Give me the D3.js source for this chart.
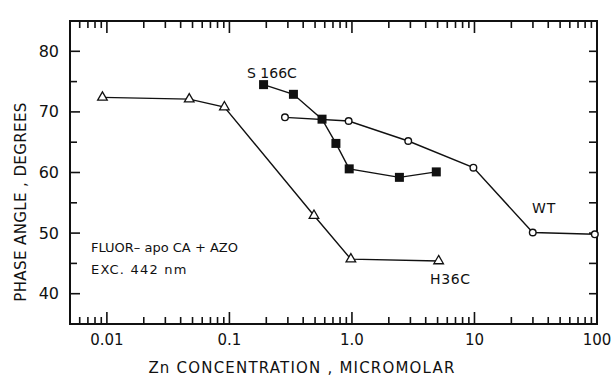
<!DOCTYPE html>
<html>
<head>
<meta charset="utf-8">
<script src="https://cdn.jsdelivr.net/npm/d3@7"></script>
<style>
  body { margin: 0; background: #fff; }
  svg text { font-family: "DejaVu Sans", sans-serif; fill: #111; }
</style>
</head>
<body>
<div id="chart"></div>
<script>
// ===== Data =====
const h36cConc = [0.0092, 0.047, 0.091, 0.49, 0.98, 5.1];
const h36cPhase = [72.4, 72.1, 70.8, 52.9, 45.7, 45.4];

const s166cConc = [0.19, 0.333, 0.57, 0.74, 0.95, 2.44, 4.88];
const s166cPhase = [74.5, 72.9, 68.8, 64.8, 60.6, 59.2, 60.1];

const wtConc = [0.284, 0.94, 2.88, 9.8, 29.9, 96];
const wtPhase = [69.1, 68.5, 65.2, 60.8, 50.1, 49.8];

const xTickValues = [0.01, 0.1, 1, 10, 100];
const xTickLabels = ['0.01', '0.1', '1.0', '10', '100'];
const yTickValues = [40, 50, 60, 70, 80];

// ===== Layout =====
const W = 615, H = 376;
const margin = { top: 21, right: 18, bottom: 52, left: 70 };
const width = W - margin.left - margin.right;
const height = H - margin.top - margin.bottom;

const svg = d3.select('#chart').append('svg')
    .attr('width', W)
    .attr('height', H);

const g = svg.append('g')
    .attr('transform', `translate(${margin.left},${margin.top})`);

// ===== Scales =====
const x = d3.scaleLog().domain([0.005, 100]).range([0, width]);
const y = d3.scaleLinear().domain([35, 85]).range([height, 0]);

// minor log ticks inside the domain
const minorX = [];
[0.001, 0.01, 0.1, 1, 10].forEach(dec => {
    for (let k = 2; k <= 9; k++) {
        const v = dec * k;
        if (v >= 0.005 && v <= 100) minorX.push(v);
    }
});

// ===== Ticks (all inward) =====
function tickLine(x1, y1, x2, y2) {
    g.append('line')
        .attr('x1', x1).attr('y1', y1).attr('x2', x2).attr('y2', y2)
        .attr('stroke', '#111').attr('stroke-width', 1.6);
}

xTickValues.forEach(v => {
    tickLine(x(v), height, x(v), height - 12);
    tickLine(x(v), 0, x(v), 12);
});
minorX.forEach(v => {
    tickLine(x(v), height, x(v), height - 7);
    tickLine(x(v), 0, x(v), 7);
});

d3.range(40, 85, 5).forEach(v => {
    const major = v % 10 === 0;
    tickLine(0, y(v), major ? 10 : 7, y(v));
    tickLine(width, y(v), width - 8, y(v));
});

// Frame
g.append('rect')
    .attr('width', width).attr('height', height)
    .attr('fill', 'none').attr('stroke', '#111').attr('stroke-width', 2);

// Tick labels
g.selectAll('.xlab')
    .data(xTickValues)
    .enter().append('text')
    .attr('x', d => x(d))
    .attr('y', height + 21)
    .attr('text-anchor', 'middle')
    .attr('font-size', 15)
    .text((d, i) => xTickLabels[i]);

g.selectAll('.ylab')
    .data(yTickValues)
    .enter().append('text')
    .attr('x', -11)
    .attr('y', d => y(d) + 5.5)
    .attr('text-anchor', 'end')
    .attr('font-size', 16)
    .text(d => d);

// Axis titles
svg.append('text')
    .attr('x', 302)
    .attr('y', 373)
    .attr('text-anchor', 'middle')
    .attr('font-size', 15)
    .attr('letter-spacing', 1.2)
    .text('Zn  CONCENTRATION , MICROMOLAR');

svg.append('text')
    .attr('transform', 'translate(26,202) rotate(-90)')
    .attr('text-anchor', 'middle')
    .attr('font-size', 15)
    .attr('letter-spacing', 0.4)
    .text('PHASE  ANGLE , DEGREES');

// ===== Series =====
const line = d3.line().x(d => x(d[0])).y(d => y(d[1]));

function drawSeries(conc, phase, marker) {
    const pts = conc.map((c, i) => [c, phase[i]]);
    g.append('path')
        .datum(pts)
        .attr('d', line)
        .attr('fill', 'none')
        .attr('stroke', '#111')
        .attr('stroke-width', 1.4);

    pts.forEach(p => {
        const px = x(p[0]), py = y(p[1]);
        if (marker === 'triangle') {
            g.append('path')
                .attr('d', d3.symbol().type(d3.symbolTriangle).size(40)())
                .attr('transform', `translate(${px},${py})`)
                .attr('fill', '#fff').attr('stroke', '#111').attr('stroke-width', 1.3);
        } else if (marker === 'square') {
            g.append('rect')
                .attr('x', px - 4.5).attr('y', py - 4.5)
                .attr('width', 9).attr('height', 9)
                .attr('fill', '#111');
        } else {
            g.append('circle')
                .attr('cx', px).attr('cy', py).attr('r', 3.3)
                .attr('fill', '#fff').attr('stroke', '#111').attr('stroke-width', 1.4);
        }
    });
}

drawSeries(h36cConc, h36cPhase, 'triangle');
drawSeries(wtConc, wtPhase, 'circle');
drawSeries(s166cConc, s166cPhase, 'square');

// ===== Labels =====
function label(txt, lx, ly, size, spacing) {
    svg.append('text')
        .attr('x', lx).attr('y', ly)
        .attr('font-size', size)
        .attr('letter-spacing', spacing || 0)
        .text(txt);
}
label('S 166C', 247, 78, 14);
label('WT', 532, 213, 14, 1);
label('H36C', 430, 284, 14, 0.6);
label('FLUOR\u2013 apo CA + AZO', 91, 252, 13);
label('EXC.  442 nm', 91, 274, 13, 1.2);
</script>
</body>
</html>
